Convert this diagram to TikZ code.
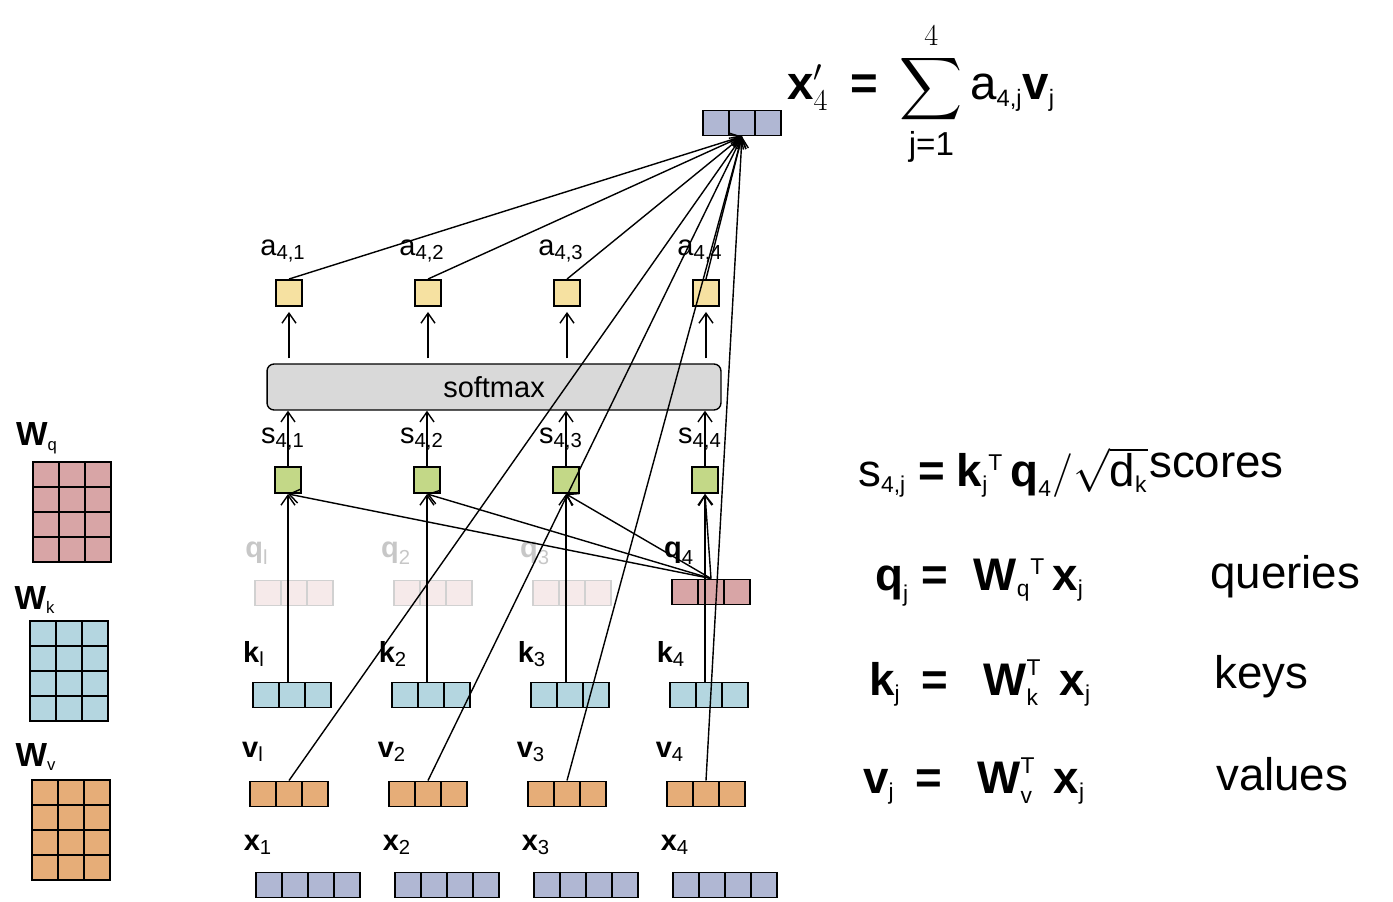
\documentclass[tikz,border=0pt]{standalone}
\usepackage[no-math]{fontspec}
\setmainfont{Liberation Sans}
\usepackage{amsmath}
\usetikzlibrary{arrows.meta, positioning, calc}

\definecolor{inblue}{HTML}{B0B7D3}
\definecolor{keyblue}{HTML}{B4D6E0}
\definecolor{valorange}{HTML}{E6AD78}
\definecolor{qpink}{HTML}{D8A5A6}
\definecolor{qfade}{HTML}{F6EAEA}
\definecolor{scoregreen}{HTML}{C3D887}
\definecolor{attnyellow}{HTML}{F6E1A1}
\definecolor{smgray}{HTML}{D9D9D9}

% small text sub/superscripts
\newcommand{\ssx}[1]{{\scriptscriptstyle\text{#1}}}
\newcommand{\sx}[1]{{\scriptstyle\text{#1}}}

\begin{document}
\begin{tikzpicture}[x=0.02cm, y=-0.02cm,
  font=\fontsize{16.5}{20}\selectfont,
  lbl/.style={inner sep=0pt},
  cells/.style={path picture={
    \foreach \k in {1,...,#1}
      \draw ($(path picture bounding box.south west)!\k/#1!(path picture bounding box.south east)$)
        -- ($(path picture bounding box.north west)!\k/#1!(path picture bounding box.north east)$);}},
  vec/.style={draw, line width=1.1pt, inner sep=0pt, minimum height=0.5cm, minimum width=#1*0.52cm, cells=#1},
  sq/.style={draw, line width=1.1pt, inner sep=0pt, minimum size=0.52cm},
  wmat/.style={draw, fill=#1, line width=1.1pt, inner sep=0pt, minimum width=1.56cm, minimum height=2cm,
    path picture={
      \foreach \k in {1,2}
        \draw ($(path picture bounding box.south west)!\k/3!(path picture bounding box.south east)$)
          -- ($(path picture bounding box.north west)!\k/3!(path picture bounding box.north east)$);
      \foreach \k in {1,2,3}
        \draw ($(path picture bounding box.south west)!\k/4!(path picture bounding box.north west)$)
          -- ($(path picture bounding box.south east)!\k/4!(path picture bounding box.north east)$);}},
  eq/.style={anchor=base west, font=\fontsize{26}{30}\selectfont},
  arr/.style={-{Straight Barb[length=2mm,width=2.8mm]}, line width=0.8pt}
]
\useasboundingbox (0,0) rectangle (1393,902);

% weight matrices
\node[wmat=qpink] (wq) at (72,512) {};
\node[lbl, font=\fontsize{19}{22}\selectfont] (wql) at (37,438) {$\textbf{W}_{\ssx{q}}$};
\node[wmat=keyblue] (wk) at (69,671) {};
\node[lbl, font=\fontsize{19}{22}\selectfont] (wkl) at (35,600) {$\textbf{W}_{\ssx{k}}$};
\node[wmat=valorange] (wv) at (71,830) {};
\node[lbl, font=\fontsize{19}{22}\selectfont] (wvl) at (36,757) {$\textbf{W}_{\ssx{v}}$};

% columns
\foreach \i/\n in {1/l,2/2,3/3,4/4}{
  \pgfmathsetmacro\cx{289+139*(\i-1)}
  \node[vec=4, fill=inblue] (x\i) at (\cx+19,885) {};
  \node[lbl] (xl\i) at (\cx-31,845) {$\textbf{x}_{\sx{\i}}$};
  \node[vec=3, fill=valorange] (v\i) at (\cx,794) {};
  \node[lbl] (vl\i) at (\cx-36,752) {$\textbf{v}_{\sx{\n}}$};
  \node[vec=3, fill=keyblue] (k\i) at (\cx+3,695) {};
  \node[lbl] (kl\i) at (\cx-35,654) {$\textbf{k}_{\sx{\n}}$};
  \node[sq, fill=scoregreen] (s\i) at (\cx-1,480) {};
  \node[lbl] (sl\i) at (\cx-6,439) {$\text{s}_{\sx{4,\i}}$};
  \node[sq, fill=attnyellow] (a\i) at (\cx,293) {};
  \node[lbl] (al\i) at (\cx-6,251) {$\text{a}_{\sx{4,\i}}$};
}

% queries (only q4 used)
\foreach \i/\n in {1/l,2/2,3/3}{
  \pgfmathsetmacro\cx{289+139*(\i-1)}
  \node[vec=3, color=black!18, fill=qfade] (q\i) at (\cx+5,593) {};
  \node[lbl, text=black!22] (ql\i) at (\cx-32,553) {$\textbf{q}_{\sx{\n}}$};
}
\node[vec=3, fill=qpink] (q4) at (711,592) {};
\node[lbl] (ql4) at (679,553) {$\textbf{q}_{\sx{4}}$};

\node[draw, fill=smgray, rounded corners=4pt, line width=0.8pt, minimum width=9.08cm, minimum height=0.92cm,
  font=\fontsize{16.5}{20}\selectfont] (softmax) at (494,387) {softmax};

\node[vec=3, fill=inblue] (out) at (742,123) {};

% connectors
\foreach \i in {1,...,4}{
  \draw[arr] (s\i |- k\i.north) -- (s\i.south);
  \draw[arr] (q4.north) -- (s\i.south);
  \draw[arr] (s\i.north) -- (s\i |- softmax.south);
  \draw[arr, shorten <=1mm, shorten >=1mm] (a\i |- softmax.north) -- (a\i.south);
  \draw[arr] (a\i.north) -- (out.south);
  \draw[arr] (v\i.north) -- (out.south);
}

% equations
\node[anchor=base west, font=\fontsize{27}{32}\selectfont] (sumeq) at (781,100)
  {$\displaystyle \textbf{x}'_{4} \:\mathrel{\textbf{=}}\: \sum_{\text{j=1}}^{4} \text{a}_{\ssx{4,j}}\textbf{v}_{\ssx{j}}$};

\node[eq] (seq) at (852,486)
  {$\text{s}_{\ssx{4,j}} \mathrel{\textbf{=}} \textbf{k}_{\ssx{j}}{}^{\ssx{T}}\,\textbf{q}_{\ssx{4}}/\sqrt{\text{d}_{\ssx{k}}}$};
\node[eq] (scores) at (1143,477) {scores};
\node[eq] (qeq) at (869,590)
  {$\textbf{q}_{\ssx{j}} \mathrel{\textbf{=}}\hspace{0.3em} \textbf{W}_{\ssx{q}}{}^{\ssx{T}}\,\textbf{x}_{\ssx{j}}$};
\node[eq] (queries) at (1204,588) {queries};
\node[eq] (keq) at (863,695)
  {$\textbf{k}_{\ssx{j}}\hspace{0.2em} \mathrel{\textbf{=}}\hspace{0.5em} \textbf{W}^{\ssx{T}}_{\ssx{k}}\hspace{0.4em}\textbf{x}_{\ssx{j}}$};
\node[eq] (keys) at (1208,688) {keys};
\node[eq] (veq) at (857,793)
  {$\textbf{v}_{\ssx{j}}\hspace{0.2em} \mathrel{\textbf{=}}\hspace{0.5em} \textbf{W}^{\ssx{T}}_{\ssx{v}}\hspace{0.4em}\textbf{x}_{\ssx{j}}$};
\node[eq] (values) at (1210,790) {values};
\end{tikzpicture}
\end{document}
